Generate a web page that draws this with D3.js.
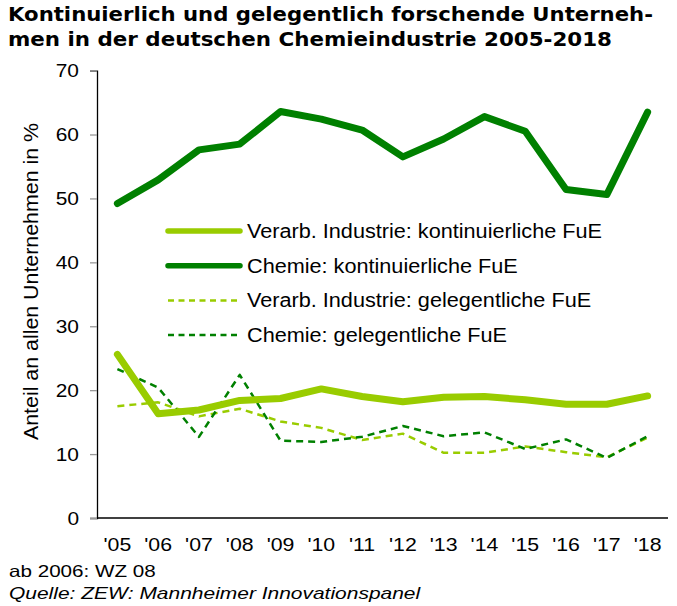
<!DOCTYPE html>
<html>
<head>
<meta charset="utf-8">
<script src="https://cdn.jsdelivr.net/npm/d3@7"></script>
<style>
  body { margin: 0; background: #fff; }
  text { font-family: "Liberation Sans", Arial, sans-serif; fill: #000; }
  .title { font-family: Verdana, "DejaVu Sans", sans-serif; font-weight: bold; font-size: 20px; }
</style>
</head>
<body>
<svg id="svg" width="677" height="606"></svg>
<script>
// Data
const years = ["'05", "'06", "'07", "'08", "'09", "'10", "'11", "'12", "'13", "'14", "'15", "'16", "'17", "'18"];
const verarbKont = [25.6, 16.3, 16.9, 18.4, 18.7, 20.2, 19.0, 18.2, 18.9, 19.0, 18.5, 17.8, 17.8, 19.1];
const chemieKont = [49.2, 52.9, 57.6, 58.5, 63.6, 62.4, 60.7, 56.5, 59.3, 62.8, 60.5, 51.4, 50.6, 63.5];
const verarbGel = [17.5, 18.1, 15.9, 17.1, 15.1, 14.1, 12.2, 13.2, 10.2, 10.2, 11.2, 10.3, 9.5, 12.6];
const chemieGel = [23.3, 20.4, 12.7, 22.4, 12.1, 11.9, 12.7, 14.4, 12.8, 13.4, 10.8, 12.3, 9.4, 12.8];
const seriesNames = [
  "Verarb. Industrie: kontinuierliche FuE",
  "Chemie: kontinuierliche FuE",
  "Verarb. Industrie: gelegentliche FuE",
  "Chemie: gelegentliche FuE"
];
const yTicks = [0, 10, 20, 30, 40, 50, 60, 70];

const colors = { light: "#99cc00", dark: "#008000" };

const attr = {
  left: 97, right: 668, top: 70.6, bottom: 518
};

const svg = d3.select("svg#svg");

// the reference text is drawn a bit wider than the font, so stretch it
var stretch = function(sel, k) {
  sel.each(function() {
    let w = this.getComputedTextLength();
    d3.select(this).attr("textLength", w * k).attr("lengthAdjust", "spacingAndGlyphs");
  });
}

const x = d3.scalePoint().domain(years).range([attr.left, attr.right]).padding(0.5);
const y = d3.scaleLinear().domain([0, 70]).range([attr.bottom, attr.top]);

// title
svg.append("text").attr("class", "title")
  .attr("x", 8).attr("y", 21)
  .attr("textLength", 645).attr("lengthAdjust", "spacingAndGlyphs")
  .text("Kontinuierlich und gelegentlich forschende Unterneh-");
svg.append("text").attr("class", "title")
  .attr("x", 8).attr("y", 46)
  .attr("textLength", 604).attr("lengthAdjust", "spacingAndGlyphs")
  .text("men in der deutschen Chemieindustrie 2005-2018");

// y axis
const yAxis = svg.append("g")
  .attr("transform", "translate(" + attr.left + ",0)")
  .call(d3.axisLeft(y).tickValues(yTicks).tickSize(7).tickPadding(11));
yAxis.select(".domain").attr("stroke", "#000").attr("stroke-width", 1.3);
yAxis.selectAll(".tick line").attr("stroke", "#999").attr("stroke-width", 1.3);
yAxis.selectAll(".tick text")
  .style("font-family", "Liberation Sans, Arial, sans-serif")
  .style("font-size", "19px")
  .attr("fill", "#000")
  .call(stretch, 1.1);

// x axis line
svg.append("line")
  .attr("x1", attr.left).attr("x2", attr.right)
  .attr("y1", attr.bottom).attr("y2", attr.bottom)
  .attr("stroke", "#000").attr("stroke-width", 1.3);

svg.append("g").selectAll("text")
  .data(years)
  .enter()
  .append("text")
  .attr("x", d => x(d))
  .attr("y", 551)
  .attr("text-anchor", "middle")
  .style("font-size", "19px")
  .text(d => d)
  .call(stretch, 1.12);

// y axis title
svg.append("text")
  .attr("transform", "translate(38,281.5) rotate(-90)")
  .attr("text-anchor", "middle")
  .style("font-size", "19.5px")
  .attr("textLength", 317).attr("lengthAdjust", "spacingAndGlyphs")
  .text("Anteil an allen Unternehmen in %");

// lines
const line = d3.line().x((d, i) => x(years[i])).y(d => y(d));
const series = [
  { values: verarbKont, color: colors.light, width: 7, dash: null },
  { values: chemieKont, color: colors.dark, width: 7, dash: null },
  { values: verarbGel, color: colors.light, width: 2.5, dash: "7,5" },
  { values: chemieGel, color: colors.dark, width: 2.5, dash: "7,5" }
];

const drawOrder = [2, 3, 0, 1];
svg.append("g").selectAll("path")
  .data(drawOrder.map(i => series[i]))
  .enter()
  .append("path")
  .attr("d", d => line(d.values))
  .attr("fill", "none")
  .attr("stroke", d => d.color)
  .attr("stroke-width", d => d.width)
  .attr("stroke-linejoin", "round")
  .attr("stroke-linecap", d => d.dash ? "butt" : "round")
  .attr("stroke-dasharray", d => d.dash);

// legend
const legend = svg.append("g").selectAll("g")
  .data(series)
  .enter()
  .append("g")
  .attr("transform", (d, i) => "translate(168," + (231 + i * 34.7) + ")");

legend.append("line")
  .attr("x1", 0).attr("x2", 72)
  .attr("stroke", d => d.color)
  .attr("stroke-width", d => d.dash ? 2.5 : 5.5)
  .attr("stroke-linecap", d => d.dash ? "butt" : "round")
  .attr("stroke-dasharray", d => d.dash ? "6,4.5" : null);

legend.append("text")
  .attr("x", 79)
  .attr("y", 7)
  .style("font-size", "19.5px")
  .text((d, i) => seriesNames[i])
  .call(stretch, 1.11);

// footnotes
svg.append("text")
  .attr("x", 9).attr("y", 577)
  .style("font-size", "16.5px")
  .text("ab 2006: WZ 08")
  .call(stretch, 1.25);
svg.append("text")
  .attr("x", 9).attr("y", 599)
  .style("font-size", "16.5px")
  .style("font-style", "italic")
  .text("Quelle: ZEW: Mannheimer Innovationspanel")
  .call(stretch, 1.27);
</script>
</body>
</html>
